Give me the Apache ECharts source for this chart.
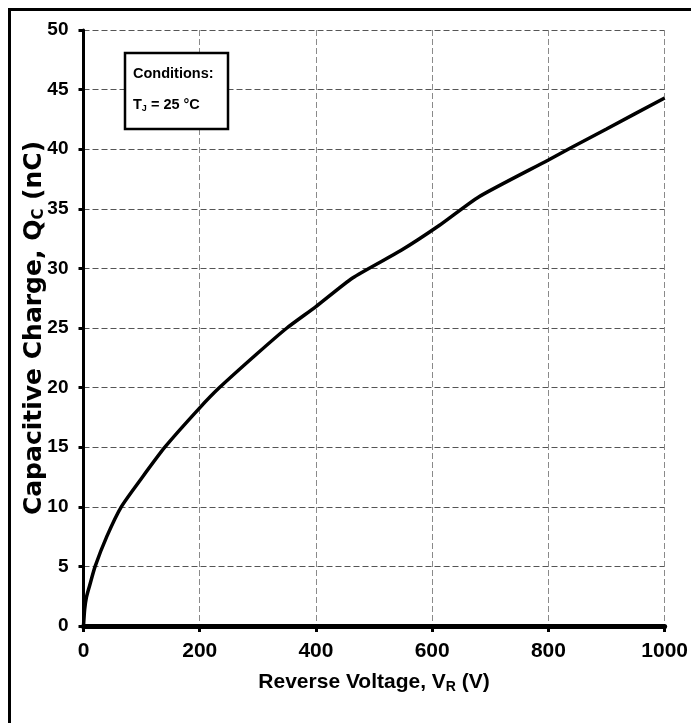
<!DOCTYPE html>
<html>
<head>
<meta charset="utf-8">
<script src="https://cdn.jsdelivr.net/npm/echarts@6/dist/echarts.min.js"></script>
<style>html,body{margin:0;padding:0;background:#fff;}#c{width:691px;height:723px;}</style>
</head>
<body>
<div id="c"></div>
<script>
const voltage = [0, 2, 5, 10, 20, 40, 65, 100, 140, 200, 234, 300, 350, 400, 463, 546, 612, 680, 800, 838, 900, 1000];
const charge  = [0, 1.4, 2.4, 3.3, 5, 7.5, 10, 12.4, 15, 18.3, 20, 22.9, 25, 26.8, 29.2, 31.5, 33.6, 36, 39.1, 40.1, 41.7, 44.3];
const xTicks = [0, 200, 400, 600, 800, 1000];
const yTicks = [0, 5, 10, 15, 20, 25, 30, 35, 40, 45, 50];

const chart = echarts.init(document.getElementById('c'));
const pts = voltage.map((v, i) => [v, charge[i]]);
chart.setOption({
  animation: false,
  backgroundColor: '#fff',
  grid: { left: 83.5, right: 25, top: 30, bottom: 97, containLabel: false },
  xAxis: {
    type: 'value', min: 0, max: 1000, interval: 200,
    name: '{t|Reverse Voltage, V}{s|R}{t| (V)}',
    nameLocation: 'middle', nameGap: 44, nameMoveOverlap: false,
    nameTextStyle: { rich: {
      t: { fontFamily: 'Liberation Sans', fontWeight: 'bold', fontSize: 21, color: '#000' },
      s: { fontFamily: 'Liberation Sans', fontWeight: 'bold', fontSize: 14, color: '#000', verticalAlign: 'bottom', padding: [10, 0, 0, 0] }
    }},
    axisLine: { show: true, onZero: false, lineStyle: { color: '#000', width: 5 } },
    axisTick: { show: true, inside: false, length: 6, lineStyle: { color: '#000', width: 3 } },
    axisLabel: { margin: 15, color: '#000', fontFamily: 'Liberation Sans', fontWeight: 'bold', fontSize: 21,
      formatter: v => xTicks.includes(v) ? String(v) : '' },
    splitLine: { show: true, lineStyle: { color: '#8a8a8a', width: 1, type: [6, 3] } }
  },
  yAxis: {
    type: 'value', min: 0, max: 50, interval: 5,
    name: '{t|Capacitive Charge, Q}{s|C}{t| (nC)}',
    nameLocation: 'middle', nameGap: 37, nameRotate: 90, nameMoveOverlap: false,
    nameTextStyle: { rich: {
      t: { fontFamily: 'DejaVu Sans', fontWeight: 'bold', fontSize: 25, color: '#000' },
      s: { fontFamily: 'DejaVu Sans', fontWeight: 'bold', fontSize: 15, color: '#000', verticalAlign: 'bottom', padding: [10, 0, 0, 0] }
    }},
    axisLine: { show: true, onZero: false, lineStyle: { color: '#000', width: 3 } },
    axisTick: { show: true, inside: false, length: 5, lineStyle: { color: '#000', width: 3 } },
    axisLabel: { margin: 15, color: '#000', fontFamily: 'Liberation Sans', fontWeight: 'bold', fontSize: 19,
      formatter: v => yTicks.includes(v) ? String(v) : '' },
    splitLine: { show: true, lineStyle: { color: '#555', width: 1, type: [6, 3] } }
  },
  series: [{
    type: 'line', data: pts, smooth: 0.2, showSymbol: false,
    lineStyle: { color: '#000', width: 3.5 }, z: 5
  }],
  graphic: [
    { type: 'rect', left: 7, top: 7, shape: { x: 0, y: 0, width: 720, height: 760 },
      style: { fill: 'none', stroke: '#000', lineWidth: 3 }, silent: true, z: 100 },
    { type: 'rect', shape: { x: 125, y: 53, width: 103, height: 76 },
      style: { fill: '#fff', stroke: '#000', lineWidth: 2.5 }, z: 100 },
    { type: 'text', left: 133, top: 66, z: 101,
      style: { text: 'Conditions:', fill: '#000', font: 'bold 14.5px "Liberation Sans"' } },
    { type: 'text', left: 133, top: 97, z: 101,
      style: { text: '{t|T}{s|J}{t| = 25 °C}', fill: '#000',
        rich: {
          t: { fontFamily: 'Liberation Sans', fontWeight: 'bold', fontSize: 14.5, color: '#000' },
          s: { fontFamily: 'Liberation Sans', fontWeight: 'bold', fontSize: 9, color: '#000', verticalAlign: 'bottom', padding: [8, 0, 0, 0] }
        } } }
  ]
});
</script>
</body>
</html>
